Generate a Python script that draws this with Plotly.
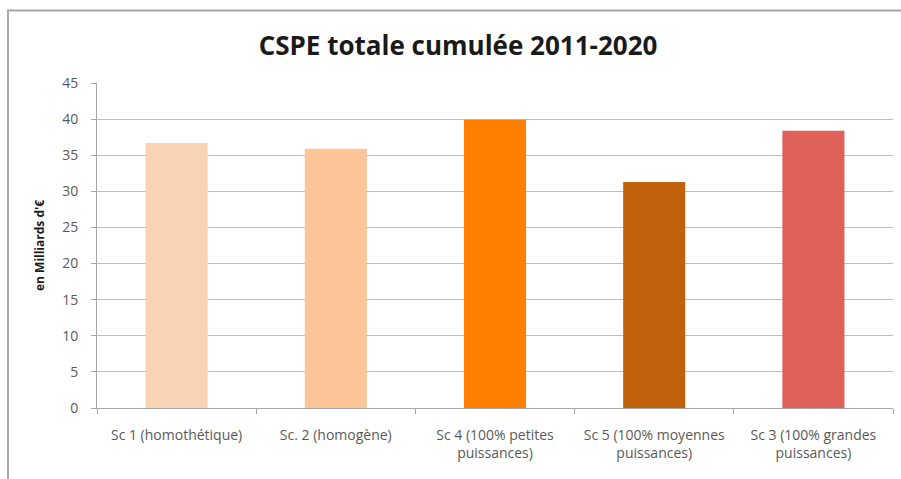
import plotly.graph_objects as go

categories = [
    "Sc 1 (homothétique)",
    "Sc. 2 (homogène)",
    "Sc 4 (100% petites<br>puissances)",
    "Sc 5 (100% moyennes<br>puissances)",
    "Sc 3 (100% grandes<br>puissances)",
]
values = [36.7, 35.9, 39.9, 31.3, 38.4]
colors = ["#F9D4B4", "#FCC598", "#FF7F00", "#C2620C", "#E0605A"]
y_ticks = [0, 5, 10, 15, 20, 25, 30, 35, 40, 45]

fig = go.Figure(go.Bar(
    x=categories, y=values, marker=dict(color=colors, line=dict(width=0)),
    width=0.39,
))

L, R, T, B = 97, 8, 83, 71
W, H = 901, 479
pw, ph = W - L - R, H - T - B

def px_x(px):
    return (px - L) / pw

def px_y(py):
    return (H - B - py) / ph

fig.update_layout(
    width=W, height=H,
    margin=dict(l=L, r=R, t=T, b=B),
    paper_bgcolor="white", plot_bgcolor="white",
    showlegend=False,
    font=dict(family="Open Sans, sans-serif", color="#595959"),
    title=dict(text="<b>CSPE totale cumulée 2011-2020</b>", x=458 / W, xanchor="center",
               y=1 - 46 / H, yanchor="middle",
               font=dict(size=26, color="#1a1a1a", family="Open Sans, sans-serif")),
    bargap=0.61,
)
fig.update_yaxes(
    range=[0, 45], tickvals=y_ticks, showgrid=True, gridcolor="#BFBFBF", gridwidth=1,
    showline=True, linecolor="#A6A6A6", linewidth=1,
    ticks="outside", ticklen=5, tickcolor="#A6A6A6",
    tickfont=dict(size=14, color="#595959"), ticklabelstandoff=10,
    title=dict(text="<b>en Milliards d'€</b>", font=dict(size=12, color="#1a1a1a"), standoff=14),
    zeroline=False, fixedrange=True,
)
fig.update_xaxes(
    showline=True, linecolor="#A6A6A6", linewidth=1,
    ticks="outside", ticklen=5, tickcolor="#A6A6A6", tickson="boundaries",
    tickfont=dict(size=14, color="#595959"), ticklabelstandoff=14,
    tickangle=0,
)
fig.add_shape(type="rect", xref="paper", yref="paper",
              x0=px_x(8), x1=px_x(W + 20), y0=px_y(H + 20), y1=px_y(10.5),
              line=dict(color="#A8A8A8", width=2), layer="above")

fig.write_html("out.html")
